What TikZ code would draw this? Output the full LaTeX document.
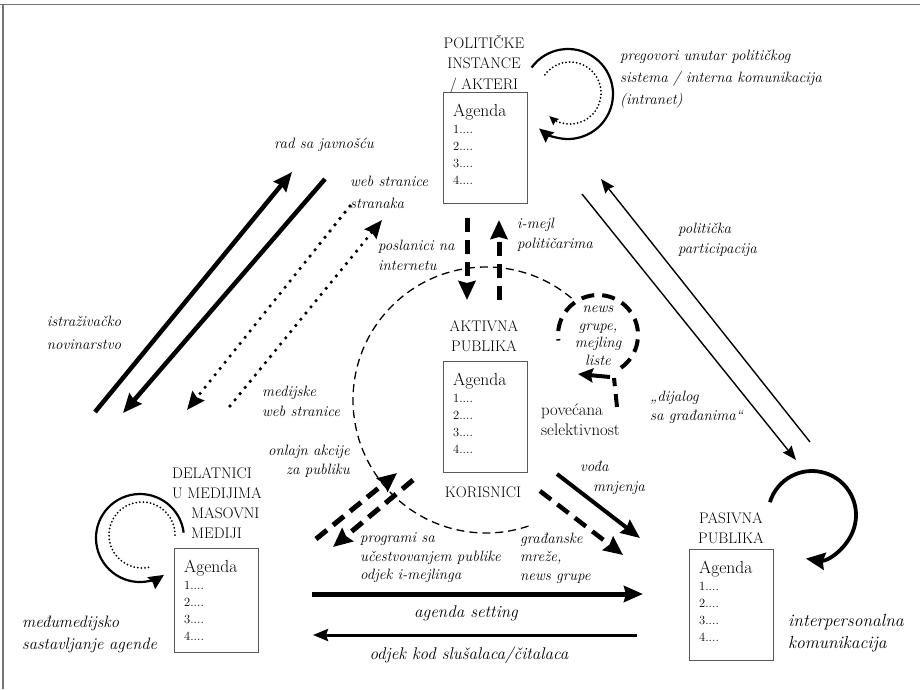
\documentclass[tikz,border=0pt]{standalone}
\usepackage{fontspec}
\usetikzlibrary{arrows.meta}
\tikzset{
  lab/.style={font=\fontsize{15}{20}\selectfont\itshape, inner sep=0pt, align=left},
  labbig/.style={font=\fontsize{17}{22}\selectfont\itshape, inner sep=0pt, align=left},
  capl/.style={font=\fontsize{15.3}{20.5}\selectfont, inner sep=0pt, align=center},
  upl/.style={font=\fontsize{16.8}{20}\selectfont, inner sep=0pt, align=left},
  agbox/.style={draw=black!65, line width=1.1pt, minimum width=84pt, inner sep=0pt, anchor=north west},
  agtext/.style={font=\fontsize{12.5}{17}\selectfont, inner sep=0pt, align=left, anchor=north west},
  thickarr/.style={line width=4.5pt, -{Stealth[length=19pt,width=16pt,inset=2pt]}},
  medarr/.style={line width=3pt, -{Stealth[length=15pt,width=12pt,inset=2pt]}},
  dotarr/.style={line width=3.6pt, line cap=round, dash pattern=on 0pt off 8pt, -{Stealth[length=18pt,width=15pt,inset=2pt]}},
  dasharr/.style={line width=5pt, dash pattern=on 14pt off 8pt, -{Stealth[length=19pt,width=17pt,inset=2pt]}},
  thinarr/.style={line width=1.4pt, -{Stealth[length=14pt,width=11pt,inset=1.5pt]}},
  thindash/.style={line width=1.3pt, dash pattern=on 8pt off 5pt},
  loopdash/.style={line width=4pt, dash pattern=on 13pt off 8pt},
  frame/.style={draw=black!55, line width=1.5pt}
}
\newcommand\agendabox[4]{%
  \node[agbox, minimum height=#4pt] (#1) at (#2,#3) {};
  \node[agtext] (#1txt) at ([xshift=10pt,yshift=-12pt]#1.north west)
    {{\fontsize{17.5}{17}\selectfont Agenda}\\1....\\2....\\3....\\4....};
}
\begin{document}
\begin{tikzpicture}[x=1pt,y=-1pt]
\useasboundingbox (0,0) rectangle (920,689);
% frame
\draw[frame] (0,4.5) -- (920,4.5);
\draw[frame] (3,4.5) -- (3,689);

% boxes
\agendabox{boxP}{443}{92}{111}
\agendabox{boxA}{443}{361}{111}
\agendabox{boxM}{174}{548}{104}
\agendabox{boxS}{689}{549}{111}

% titles
\node[capl] (tP) at (484,64) {POLITIČKE\\INSTANCE\\/ AKTERI};
\node[capl] (tA) at (484,336) {AKTIVNA\\PUBLIKA};
\node[capl] (tK) at (483,492) {KORISNICI};
\node[capl, align=left, anchor=west] (tM1) at (172,483) {DELATNICI\\U MEDIJIMA};
\node[capl, align=left, anchor=west] (tM2) at (191,523) {MASOVNI\\MEDIJI};
\node[capl] (tS) at (731,528) {PASIVNA\\PUBLIKA};
\node[upl, anchor=west] (sel) at (541,420) {povećana\\selektivnost};

% labels
\node[lab] (lrad) at (324,145) {rad sa javnošću};
\node[lab, anchor=west, font=\fontsize{15}{22}\selectfont\itshape] (lweb) at (350,192) {web stranice\\stranaka};
\node[lab, anchor=west] (lposl) at (378,255) {poslanici na\\internetu};
\node[lab, anchor=west] (lmail) at (517,235) {i-mejl\\političarima};
\node[lab, anchor=west, font=\fontsize{15}{22}\selectfont\itshape] (lpreg) at (620,79) {pregovori unutar političkog\\sistema / interna komunikacija\\(intranet)};
\node[lab, anchor=west] (lpart) at (678,240) {politička\\participacija};
\node[lab, align=center, font=\fontsize{15}{23}\selectfont\itshape] (listr) at (84,333) {istraživačko\\novinarstvo};
\node[lab, anchor=west] (lmed) at (262,401) {medijske\\web stranice};
\node[lab, anchor=east, align=right, font=\fontsize{15}{19}\selectfont\itshape] (lonl) at (350,461) {onlajn akcije\\za publiku};
\node[lab, align=center, font=\fontsize{15}{17.5}\selectfont\itshape] (lnews) at (598,336) {news\\grupe,\\mejling\\liste};
\node[lab, anchor=west, font=\fontsize{15}{19}\selectfont\itshape] (ldij) at (650,407) {„dijalog\\sa građanima“};
\node[lab, anchor=west] (lvod) at (580,478) {vođa\\\hspace*{13pt}mnjenja};
\node[lab, anchor=west, font=\fontsize{15}{18.5}\selectfont\itshape] (lprog) at (360,558) {programi sa\\učestvovanjem publike\\odjek i-mejlinga};
\node[lab, anchor=west, font=\fontsize{15}{18.5}\selectfont\itshape] (lgrad) at (520,558) {građanske\\mreže,\\news grupe};
\node[labbig] (lagset) at (466,613) {agenda setting};
\node[labbig] (lodj) at (469,655) {odjek kod slušalaca/čitalaca};
\node[labbig, anchor=west, font=\fontsize{16.5}{22}\selectfont\itshape] (lmedj) at (22,634) {međumedijsko\\sastavljanje agende};
\node[labbig, anchor=west, font=\fontsize{17.5}{22}\selectfont\itshape] (linter) at (788,633) {interpersonalna\\komunikacija};

% connector end points
\coordinate (L1a) at (95,412);  \coordinate (L1b) at (292,172);
\coordinate (L2a) at (325,179); \coordinate (L2b) at (123,413);
\coordinate (D1a) at (350,206); \coordinate (D1b) at (187,410);
\coordinate (D2a) at (230,406); \coordinate (D2b) at (382,220);
\coordinate (V1a) at (467,218); \coordinate (V1b) at (467,300);
\coordinate (V2a) at (499,300); \coordinate (V2b) at (499,220);
\coordinate (R1a) at (810,442); \coordinate (R1b) at (601,179);
\coordinate (R2a) at (582,194); \coordinate (R2b) at (796,460);
\coordinate (B1a) at (316,539); \coordinate (B1b) at (397,473);
\coordinate (B2a) at (413,480); \coordinate (B2b) at (333,547);
\coordinate (C1a) at (557,474); \coordinate (C1b) at (640,538);
\coordinate (C2a) at (540,491); \coordinate (C2b) at (623,555);
\coordinate (H1a) at (312,594); \coordinate (H1b) at (643,594);
\coordinate (H2a) at (637,635); \coordinate (H2b) at (313,635);
\coordinate (cP) at (568,94);
\coordinate (cPd) at (570,93);
\coordinate (cM) at (140,538);
\coordinate (cMd) at (142,535);
\coordinate (cS) at (812,515);
\coordinate (cBig) at (486,400);
\coordinate (cNews) at (598,335);
\coordinate (N1) at (617,407); \coordinate (N2) at (614,378);
\coordinate (N3) at (610,377); \coordinate (N4) at (578,374);

% left diagonal arrows
\draw[thickarr] (L1a) -- (L1b);
\draw[thickarr] (L2a) -- (L2b);
\draw[dotarr] (D1a) -- (D1b);
\draw[dotarr] (D2a) -- (D2b);
% vertical dashed
\draw[dasharr] (V1a) -- (V1b);
\draw[dasharr] (V2a) -- (V2b);
% right diagonal thin
\draw[thinarr] (R1a) -- (R1b);
\draw[thinarr] (R2a) -- (R2b);
% bottom-left dashed
\draw[dasharr] (B1a) -- (B1b);
\draw[dasharr] (B2a) -- (B2b);
% bottom-right
\draw[thickarr, line width=4pt] (C1a) -- (C1b);
\draw[dasharr, line width=4.5pt] (C2a) -- (C2b);
% horizontal
\draw[thickarr, line width=5pt] (H1a) -- (H1b);
\draw[medarr] (H2a) -- (H2b);

% big dashed circle
\draw[thindash] (cBig) ++(50:133pt) arc[start angle=50, end angle=290, radius=133pt];
% news group loop
\draw[loopdash] (cNews) ++(-55:40pt) arc[start angle=-55, end angle=188, radius=40pt];
\draw[loopdash] (N1) -- (N2);
\draw[line width=4pt, -{Stealth[length=15pt,width=14pt,inset=2pt]}] (N3) -- (N4);

% self loops
\draw[line width=2.2pt, -{Stealth[length=14pt,width=13pt,inset=1.5pt]}] (cP) ++(144:45pt) arc[start angle=144, end angle=-130, radius=45pt];
\draw[line width=2pt, line cap=round, dash pattern=on 0pt off 3.6pt, -{Stealth[length=9pt,width=8pt,inset=1pt]}] (cPd) ++(144:31pt) arc[start angle=144, end angle=-132, radius=31pt];
\draw[line width=2.2pt, -{Stealth[length=15pt,width=14pt,inset=1.5pt]}] (cM) ++(7:44pt) arc[start angle=7, end angle=303, radius=44pt];
\draw[line width=2pt, line cap=round, dash pattern=on 0pt off 3.6pt] (cMd) ++(0:33pt) arc[start angle=0, end angle=287, radius=33pt];
\draw[line width=3.8pt, -{Stealth[length=19pt,width=17pt,inset=2pt]}] (cS) ++(163:44pt) arc[start angle=163, end angle=-98, radius=44pt];
\end{tikzpicture}
\end{document}
